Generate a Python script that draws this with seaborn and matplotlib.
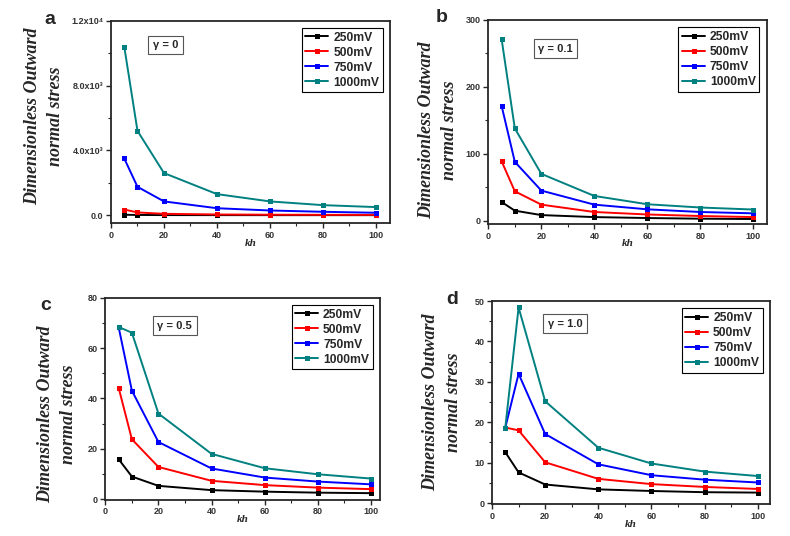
import numpy as np
import pandas as pd
import matplotlib
matplotlib.use("Agg")
import matplotlib.pyplot as plt
import seaborn as sns
from matplotlib.ticker import MultipleLocator, FixedLocator, FixedFormatter

sns.set_style("ticks")
plt.rcParams['font.family'] = ['Liberation Sans', 'DejaVu Sans']

# data
kh = [5, 10, 20, 40, 60, 80, 100]
voltages = ['250mV', '500mV', '750mV', '1000mV']
colors = ['#000000', '#ff0000', '#0000ff', '#008080']

# gamma = 0
a_250 = [27, 14, 7, 4, 3, 2.5, 2]
a_500 = [350, 170, 85, 45, 30, 22, 18]
a_750 = [3500, 1750, 850, 430, 290, 210, 150]
a_1000 = [10400, 5200, 2600, 1300, 850, 620, 500]

# gamma = 0.1
b_250 = [28, 15, 8.4, 5.4, 4, 3, 2.5]
b_500 = [89, 44, 24, 13, 9.3, 7, 5.4]
b_750 = [172, 88, 45, 24, 17, 13, 11]
b_1000 = [272, 138, 70, 37, 24.6, 19.7, 16.7]

# gamma = 0.5
c_250 = [15.9, 9.0, 5.3, 3.6, 3.0, 2.6, 2.4]
c_500 = [44.3, 23.8, 12.8, 7.3, 5.6, 4.6, 4.0]
c_750 = [68.4, 43.1, 22.7, 12.2, 8.6, 7.0, 5.9]
c_1000 = [68.4, 66.1, 34.0, 18.0, 12.3, 9.9, 8.2]

# gamma = 1.0
d_250 = [12.6, 7.6, 4.6, 3.4, 3.0, 2.7, 2.6]
d_500 = [18.7, 18.0, 10.1, 6.0, 4.7, 4.0, 3.5]
d_750 = [18.7, 32.0, 17.1, 9.6, 6.9, 5.8, 5.1]
d_1000 = [18.7, 48.4, 25.2, 13.7, 9.8, 7.8, 6.7]

panel_letters = ['a', 'b', 'c', 'd']
gamma_labels = ['\u03b3 = 0', '\u03b3 = 0.1', '\u03b3 = 0.5', '\u03b3 = 1.0']
panel_series = [
    [a_250, a_500, a_750, a_1000],
    [b_250, b_500, b_750, b_1000],
    [c_250, c_500, c_750, c_1000],
    [d_250, d_500, d_750, d_1000],
]

# layout (figure fractions)
axes_pos = [
    [0.1405, 0.5834, 0.3532, 0.3780],
    [0.6181, 0.5820, 0.3524, 0.3807],
    [0.1333, 0.0677, 0.3477, 0.3769],
    [0.6228, 0.0591, 0.3519, 0.3793],
]
ylims = [(-500, 12000), (-5, 300), (-0.2, 80), (-0.3, 50)]
xmax = [105.3, 105, 103.4, 104.6]
ymajor = [4000, 100, 20, 10]
letter_pos = [(50, 20), (442, 18), (46, 306), (452, 299)]
ylabel_pos = [(44, 116), (438, 130), (57, 414), (442, 402)]
gamma_pos = [(0.15, 0.88), (0.18, 0.86), (0.19, 0.862), (0.2, 0.889)]

W, H = 790, 536
fig = plt.figure(figsize=(7.9, 5.36), dpi=100)

for i in range(4):
    ax = fig.add_axes(axes_pos[i])
    df = pd.DataFrame({
        'kh': kh * 4,
        'stress': sum(panel_series[i], []),
        'voltage': np.repeat(voltages, len(kh)),
    })
    sns.lineplot(data=df, x='kh', y='stress', hue='voltage', hue_order=voltages,
                 palette=colors, marker='s', markersize=3.6, markeredgewidth=0,
                 linewidth=1.4, legend=False, ax=ax)

    ax.set_xlim(0, xmax[i])
    ax.set_ylim(*ylims[i])
    ax.xaxis.set_major_locator(MultipleLocator(20))
    ax.xaxis.set_minor_locator(MultipleLocator(10))
    ax.yaxis.set_major_locator(MultipleLocator(ymajor[i]))
    ax.yaxis.set_minor_locator(MultipleLocator(ymajor[i] / 2))
    if i == 0:
        ax.yaxis.set_major_locator(FixedLocator([0, 4000, 8000, 12000]))
        ax.yaxis.set_major_formatter(FixedFormatter(['0.0', '4.0x10\u00b3', '8.0x10\u00b3', '1.2x10\u2074']))

    ax.tick_params(which='major', direction='out', length=3.5, width=1, labelsize=6.5,
                   labelcolor='#333333', pad=2)
    ax.tick_params(which='minor', direction='out', length=2, width=0.8)
    for lab in ax.get_xticklabels() + ax.get_yticklabels():
        lab.set_fontweight('bold')
    for sp in ax.spines.values():
        sp.set_visible(True)
        sp.set_linewidth(1.3)

    ax.set_xlabel('kh', fontsize=8, fontstyle='italic', fontweight='bold',
                  family='Liberation Serif', labelpad=-1)
    ax.set_ylabel('')

    leg = ax.legend(ax.get_lines()[:4], voltages, loc='upper right',
                    prop={'weight': 'bold', 'size': 8.7}, frameon=True, fancybox=False,
                    edgecolor='black', framealpha=1, borderaxespad=0.6,
                    handlelength=1.9, labelspacing=0.25, borderpad=0.3, handletextpad=0.4)
    leg.get_frame().set_linewidth(0.8)

    ax.text(gamma_pos[i][0], gamma_pos[i][1], gamma_labels[i], transform=ax.transAxes,
            ha='left', va='center', fontsize=8, fontweight='bold',
            bbox=dict(boxstyle='square,pad=0.4', facecolor='white', edgecolor='#555555', lw=0.8))

    fig.text(letter_pos[i][0] / W, 1 - letter_pos[i][1] / H, panel_letters[i],
             ha='center', va='center', fontsize=14, fontweight='bold')
    fig.text(ylabel_pos[i][0] / W, 1 - ylabel_pos[i][1] / H,
             'Dimensionless Outward\nnormal stress', rotation=90, ha='center', va='center',
             multialignment='center', linespacing=1.5, fontsize=13,
             family='Liberation Serif', fontstyle='italic', fontweight='bold')

fig.savefig('out.png', dpi=100)
